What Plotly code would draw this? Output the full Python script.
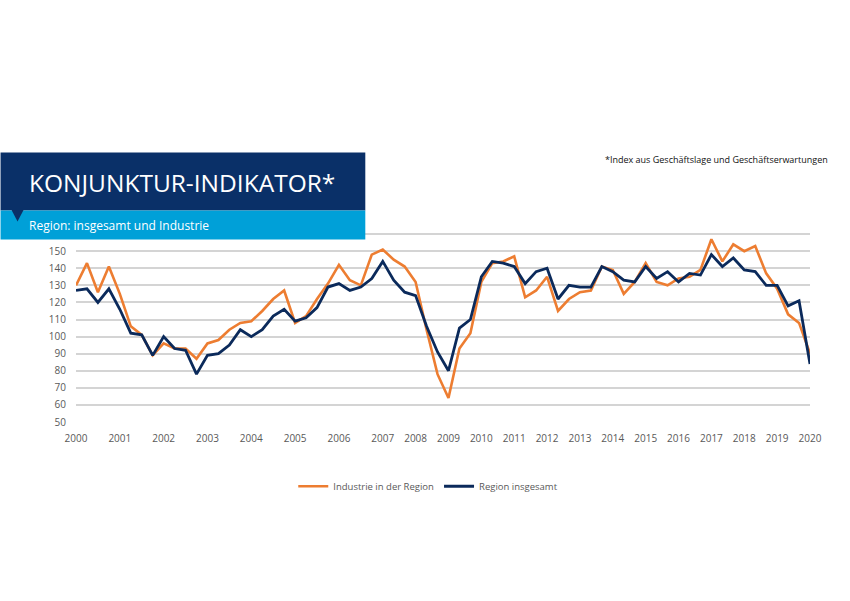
import plotly.graph_objects as go

# ---------------- data ----------------
years_quarterly = [2000, 2001, 2002, 2003, 2004, 2005, 2006]   # 4 surveys per year
years_triannual = list(range(2007, 2020))                        # 3 surveys per year
final_year = 2020

periods = []
for y in years_quarterly:
    for k in range(1, 5):
        periods.append(f"{y}/{k}")
for y in years_triannual:
    for k in range(1, 4):
        periods.append(f"{y}/{k}")
periods.append(f"{final_year}/1")

industrie = [130, 143, 126, 141, 125, 106, 101, 89, 96, 93, 93, 87,
             96, 98, 104, 108, 109, 115, 122, 127, 108, 112, 122, 131,
             142, 133, 130, 148, 151, 145, 141, 132, 104, 78, 64, 93, 102,
             132, 143, 144, 147, 123, 127, 135, 115, 122, 126, 127,
             141, 139, 125, 132, 143, 132, 130, 134, 135, 139,
             157, 144, 154, 150, 153, 137, 128, 113, 108, 90]

region = [127, 128, 120, 128, 116, 102, 101, 89, 100, 93, 92, 78,
          89, 90, 95, 104, 100, 104, 112, 116, 109, 111, 117, 129,
          131, 127, 129, 134, 144, 133, 126, 124, 106, 91, 80, 105, 110,
          135, 144, 143, 141, 131, 138, 140, 122, 130, 129, 129,
          141, 138, 133, 132, 141, 134, 138, 132, 137, 136,
          148, 141, 146, 139, 138, 130, 130, 118, 121, 84]

series_names = ["Industrie in der Region", "Region insgesamt"]
tick_years = [str(y) for y in years_quarterly + years_triannual + [final_year]]
y_ticks = [50, 60, 70, 80, 90, 100, 110, 120, 130, 140, 150, 160, 170]
y_tick_labels = ["50", "60", "70", "80", "90", "100", "110", "120", "130", "140", "150", "", ""]

title_text = "KONJUNKTUR-INDIKATOR*"
subtitle_text = "Region: insgesamt und Industrie"
footnote_text = "*Index aus Geschäftslage und Geschäftserwartungen"

# ---------------- layout helpers ----------------
W, H = 850, 601
L, R = 75.5, 810.0
T, B = 216.5, 421.7

def px(x):
    return (x - L) / (R - L)

def py(y):
    return (B - y) / (B - T)

ORANGE = "#ED7D31"
NAVY = "#0B2A5B"
BANNER = "#0A3068"
LIGHTBLUE = "#00A0D8"
FONT = "Open Sans"

tick_vals = [p for p in periods if p.endswith("/1")]

fig = go.Figure()
fig.add_trace(go.Scatter(x=periods, y=industrie, mode="lines", name=series_names[0],
                         line=dict(color=ORANGE, width=2.6)))
fig.add_trace(go.Scatter(x=periods, y=region, mode="lines", name=series_names[1],
                         line=dict(color=NAVY, width=2.8)))

fig.update_layout(
    width=W, height=H,
    margin=dict(l=L, r=W - R, t=T, b=H - B, pad=0),
    paper_bgcolor="white", plot_bgcolor="white",
    font=dict(family=FONT, color="#595959", size=10),
    showlegend=True,
    legend=dict(orientation="h", x=px(428), y=py(486), xanchor="center", yanchor="middle",
                font=dict(size=9.5, color="#595959"), itemwidth=30, bgcolor="rgba(0,0,0,0)"),
    xaxis=dict(type="category", range=[0, len(periods) - 1], tickmode="array",
               tickvals=tick_vals, ticktext=tick_years, showgrid=False, zeroline=False,
               showline=False, ticks="", ticklabelstandoff=9,
               tickfont=dict(size=10, color="#595959")),
    yaxis=dict(range=[50, 170], tickmode="array", tickvals=y_ticks, ticktext=y_tick_labels,
               showgrid=True, gridcolor="#D4D4D4", gridwidth=1.5, zeroline=False,
               showline=False, ticks="", ticklabelstandoff=9,
               tickfont=dict(size=10, color="#595959")),
)

# banner shapes (above traces so they cover the gridlines)
fig.add_shape(type="rect", xref="paper", yref="paper", layer="above",
              x0=px(0), x1=px(365), y0=py(210), y1=py(152),
              fillcolor=BANNER, line=dict(width=0))
fig.add_shape(type="rect", xref="paper", yref="paper", layer="above",
              x0=px(0), x1=px(365), y0=py(239), y1=py(210),
              fillcolor=LIGHTBLUE, line=dict(width=0))
fig.add_shape(type="path", xref="paper", yref="paper", layer="above",
              path=f"M {px(11)},{py(209.5)} L {px(23)},{py(209.5)} L {px(17)},{py(221)} Z",
              fillcolor=BANNER, line=dict(width=0))

fig.add_annotation(text=title_text, xref="paper", yref="paper", x=px(26), y=py(182),
                   xanchor="left", yanchor="middle", showarrow=False,
                   font=dict(family=FONT, size=24.5, color="white"))
fig.add_annotation(text=subtitle_text, xref="paper", yref="paper", x=px(26), y=py(225),
                   xanchor="left", yanchor="middle", showarrow=False,
                   font=dict(family=FONT, size=12, color="white"))
fig.add_annotation(text=footnote_text, xref="paper", yref="paper", x=px(830), y=py(159),
                   xanchor="right", yanchor="middle", showarrow=False,
                   font=dict(family=FONT, size=9, color="#111111"))

fig.write_html("out.html", config={"displayModeBar": False},
               post_script="document.body.style.margin='0';document.body.style.overflow='hidden';")
